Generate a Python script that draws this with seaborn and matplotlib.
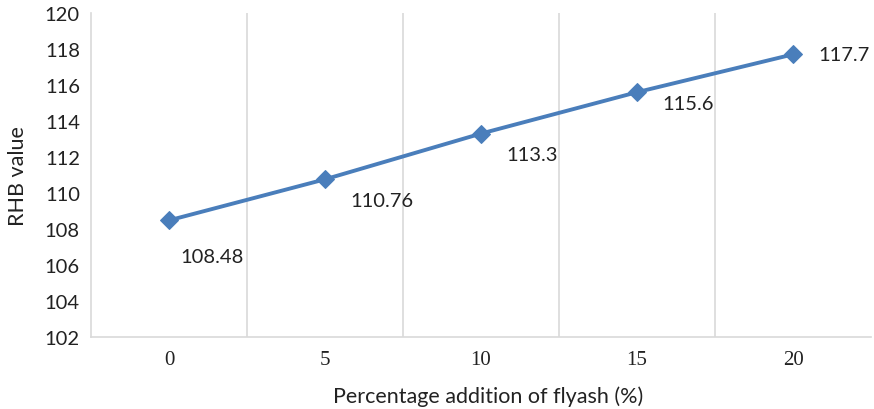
import matplotlib
matplotlib.use("Agg")
import matplotlib.pyplot as plt
import seaborn as sns
import pandas as pd

categories = ["0", "5", "10", "15", "20"]
rhb_values = [108.48, 110.76, 113.3, 115.6, 117.7]
label_texts = ["108.48", "110.76", "113.3", "115.6", "117.7"]
y_ticks = [102, 104, 106, 108, 110, 112, 114, 116, 118, 120]

sns.set_style("white")
plt.rcParams['font.family'] = ['Lato', 'DejaVu Sans']

df = pd.DataFrame({"x": categories, "y": rhb_values})

fig = plt.figure(figsize=(8.74, 4.10), dpi=100)
ax = fig.add_axes([0.1041, 0.1756, 0.8925, 0.7903])

color = "#4A7EBB"
sns.lineplot(data=df, x="x", y="y", ax=ax, color=color, linewidth=2.8,
             marker="D", markersize=9.5, markeredgecolor=color, sort=False)

ax.set_xlim(-0.5, len(categories) - 0.5)
ax.set_ylim(102, 120)
ax.set_yticks(y_ticks)
ax.set_yticklabels([str(t) for t in y_ticks], fontsize=14.5, color="#222222")
ax.set_xticks(range(len(categories)))
ax.set_xticklabels(categories, fontsize=15, family="Liberation Serif", color="#222222")
ax.tick_params(axis="both", length=0)
ax.tick_params(axis="x", pad=9)
ax.tick_params(axis="y", pad=8)

for b in [i + 0.5 for i in range(len(categories) - 1)]:
    ax.axvline(b, color="#D9D9D9", linewidth=1.2, zorder=0)

for s in ["top", "right"]:
    ax.spines[s].set_visible(False)
ax.spines["left"].set_color("#D9D9D9")
ax.spines["bottom"].set_color("#D9D9D9")
ax.spines["left"].set_linewidth(1.2)
ax.spines["bottom"].set_linewidth(1.2)

offsets = [(8, -26), (18, -15), (18, -15), (18, -8), (18, 0)]
for i, (v, t, off) in enumerate(zip(rhb_values, label_texts, offsets)):
    ax.annotate(t, (i, v), xytext=off, textcoords="offset points",
                ha="left", va="center", fontsize=14.5, color="#222222")

ax.set_xlabel("Percentage addition of flyash (%)", fontsize=15.5, labelpad=12, color="#222222")
ax.xaxis.label.set_x(0.509)
ax.set_ylabel("RHB value", fontsize=15.5, labelpad=12, color="#222222")

fig.savefig("out.png", dpi=100)
